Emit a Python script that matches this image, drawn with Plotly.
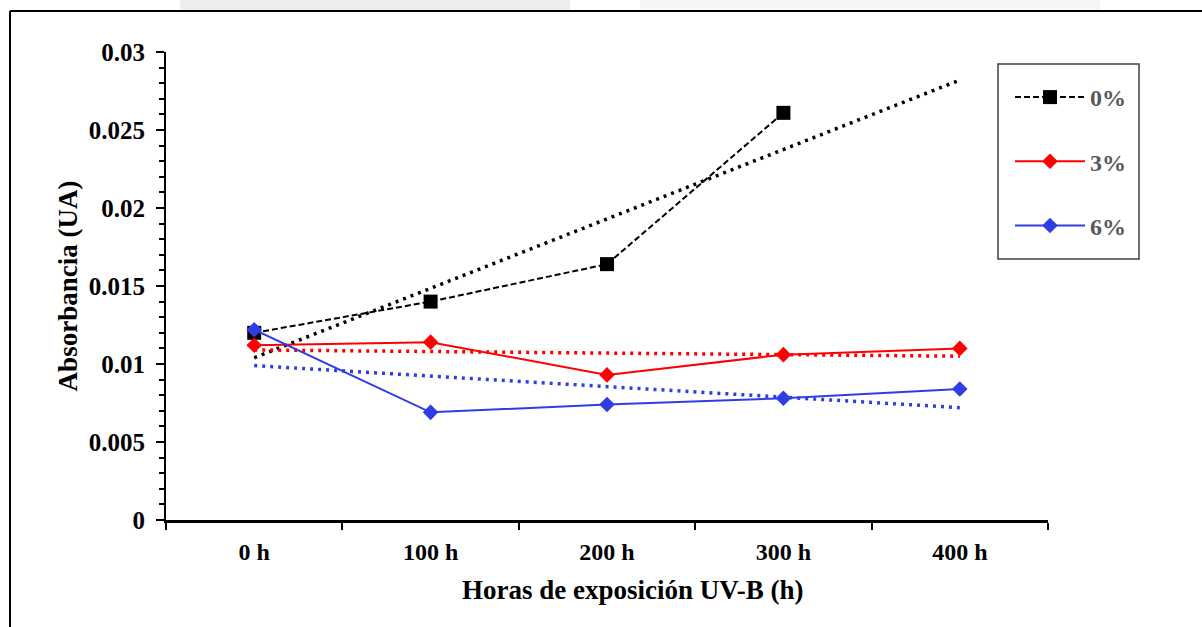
import plotly.graph_objects as go

categories = ["0 h", "100 h", "200 h", "300 h", "400 h"]
s0_x = ["0 h", "100 h", "200 h", "300 h"]
s0 = [0.0120, 0.0140, 0.0164, 0.0261]
s3 = [0.0112, 0.0114, 0.0093, 0.0106, 0.0110]
s6 = [0.0122, 0.0069, 0.0074, 0.0078, 0.0084]

trend_x = ["0 h", "400 h"]
trend0 = [0.0104, 0.0282]
trend3 = [0.0109, 0.0105]
trend6 = [0.0099, 0.0072]

BLUE = "#2F3DE3"
RED = "#FF0000"
FONT = "Liberation Serif"

W, H = 1202, 627
ML, MR, MT, MB = 166, 154, 52, 107
PW, PH = W - ML - MR, H - MT - MB


def px(x):
    return (x - ML) / PW


def py(y):
    return (H - MB - y) / PH


fig = go.Figure()

# trend lines
fig.add_trace(go.Scatter(x=trend_x, y=trend0, mode="lines", showlegend=False,
                         line=dict(color="black", width=3.5, dash="3px,5px")))
fig.add_trace(go.Scatter(x=trend_x, y=trend3, mode="lines", showlegend=False,
                         line=dict(color=RED, width=3.5, dash="3px,5px")))
fig.add_trace(go.Scatter(x=trend_x, y=trend6, mode="lines", showlegend=False,
                         line=dict(color=BLUE, width=3.5, dash="3px,5px")))

fig.add_trace(go.Scatter(x=s0_x, y=s0, name="0%", mode="lines+markers", legendgroup="a",
                         line=dict(color="black", width=2, dash="6px,3px"),
                         marker=dict(symbol="square", size=14, color="black")))
fig.add_trace(go.Scatter(x=categories, y=s3, name="3%", mode="lines+markers", legendgroup="b",
                         line=dict(color=RED, width=2),
                         marker=dict(symbol="diamond", size=12, color=RED)))
fig.add_trace(go.Scatter(x=categories, y=s6, name="6%", mode="lines+markers", legendgroup="c",
                         line=dict(color=BLUE, width=2),
                         marker=dict(symbol="diamond", size=12, color=BLUE)))

shapes = [
    # faint watermark band at top
    dict(type="rect", xref="paper", yref="paper", x0=px(180), x1=px(570), y0=py(10), y1=py(0),
         fillcolor="#ededed", line=dict(width=0), layer="below"),
    dict(type="rect", xref="paper", yref="paper", x0=px(640), x1=px(1100), y0=py(10), y1=py(0),
         fillcolor="#f6f6f6", line=dict(width=0), layer="below"),
    # outer border (left and top)
    dict(type="line", xref="paper", yref="paper", x0=px(10), x1=px(10), y0=py(11), y1=py(640),
         line=dict(color="black", width=2)),
    dict(type="line", xref="paper", yref="paper", x0=px(10), x1=px(1210), y0=py(11), y1=py(11),
         line=dict(color="black", width=2)),
    # legend box
    dict(type="rect", xref="paper", yref="paper", x0=px(998), x1=px(1139), y0=py(259), y1=py(64),
         line=dict(color="#404040", width=1.5), fillcolor="rgba(0,0,0,0)"),
]

fig.update_layout(
    width=W, height=H,
    margin=dict(l=ML, r=MR, t=MT, b=MB),
    paper_bgcolor="white", plot_bgcolor="white",
    font=dict(family=FONT, size=24, color="black"),
    shapes=shapes,
    annotations=[dict(text="<b>Horas de exposición UV-B (h)</b>", xref="paper", yref="paper",
                      x=px(633), y=py(590), xanchor="center", yanchor="middle", showarrow=False,
                      font=dict(family=FONT, size=27, color="black"))],
    legend=dict(x=px(1010), y=py(75), xanchor="left", yanchor="top",
                font=dict(family=FONT, size=24, color="#595959", weight="bold"),
                itemwidth=70, tracegroupgap=30, bgcolor="rgba(0,0,0,0)", borderwidth=0),
    xaxis=dict(type="category", categoryorder="array", categoryarray=categories,
               range=[-0.5, 4.5], showgrid=False, zeroline=False,
               showline=True, linecolor="black", linewidth=2.5,
               ticks="outside", tickson="boundaries", ticklen=7, tickwidth=2, tickcolor="black",
               ticklabelstandoff=8,
               tickfont=dict(family=FONT, size=24, color="black", weight="bold")),
    yaxis=dict(range=[0, 0.03], dtick=0.005, showgrid=False, zeroline=False,
               showline=True, linecolor="black", linewidth=2,
               ticks="outside", ticklen=8, tickwidth=2, tickcolor="black",
               ticklabelstandoff=6,
               minor=dict(dtick=0.001, ticks="outside", ticklen=5, tickwidth=2, tickcolor="black"),
               tickfont=dict(family=FONT, size=25, color="black", weight="bold"),
               title=dict(text="<b>Absorbancia (UA)</b>", standoff=3,
                          font=dict(family=FONT, size=27, color="black"))),
)

fig.write_html("out.html")
